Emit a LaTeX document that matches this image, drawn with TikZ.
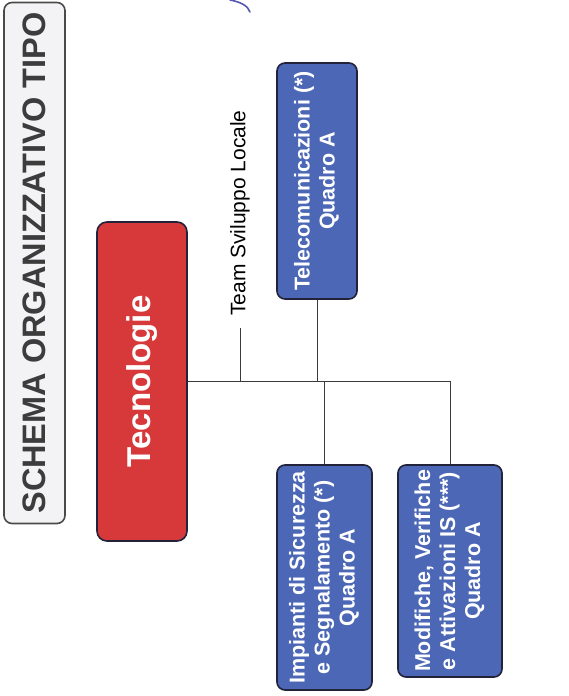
\documentclass[tikz,border=0pt]{standalone}
\usepackage{fontspec}
\setmainfont{Liberation Sans}
\definecolor{boxblue}{HTML}{4B67B5}
\definecolor{techred}{HTML}{D7393B}
\definecolor{boxline}{HTML}{22223A}
\definecolor{titlefill}{HTML}{F3F3F5}
\definecolor{titleline}{HTML}{4A4A4A}
\definecolor{titletext}{HTML}{3C3C3C}
\definecolor{linegray}{HTML}{3A3A3A}
\definecolor{scribblecol}{HTML}{5555B5}
\begin{document}
\begin{tikzpicture}[x=1pt,y=-1pt,
  box/.style={draw=boxline, line width=1.6pt, rounded corners=8pt, inner sep=0pt},
  bluebox/.style={box, fill=boxblue, text=white, font=\bfseries\fontsize{21.5}{25}\selectfont},
  link/.style={draw=linegray, line width=0.9pt},
  scribble/.style={draw=scribblecol, line width=1.6pt, line cap=round}]
\useasboundingbox (0,0) rectangle (569,696);
\fill[white] (0,0) rectangle (569,696);
% title
\node[box, draw=titleline, fill=titlefill, minimum width=61pt, minimum height=521pt,
      text=titletext, font=\bfseries\fontsize{32.5}{36}\selectfont] (title) at (34.5,263)
      {\rotatebox{90}{SCHEMA ORGANIZZATIVO TIPO}};
% main box
\node[box, fill=techred, text=white, rounded corners=10pt, minimum width=90pt, minimum height=319pt,
      font=\bfseries\fontsize{33}{38}\selectfont] (tec) at (142,381.5)
      {\rotatebox{90}{Tecnologie}};
% team label
\node[inner sep=0pt, font=\fontsize{21}{25}\selectfont] (team) at (240,213)
      {\rotatebox{90}{Team Sviluppo Locale}};
% blue boxes
\node[bluebox, minimum width=80pt, minimum height=236pt] (tel) at (317,181)
      {\rotatebox{90}{\begin{tabular}{@{}c@{}}Telecomunicazioni (*)\\Quadro A\end{tabular}}};
\node[bluebox, minimum width=95pt, minimum height=225pt] (imp) at (324.5,577.5)
      {\rotatebox{90}{\begin{tabular}{@{}c@{}}Impianti di Sicurezza\\e Segnalamento (*)\\Quadro A\end{tabular}}};
\node[bluebox, minimum width=104pt, minimum height=212pt] (mod) at (450,571)
      {\rotatebox{90}{\begin{tabular}{@{}c@{}}Modifiche, Verifiche\\e Attivazioni IS (***)\\Quadro A\end{tabular}}};
% connectors
\draw[link] (tec.east) -- (tec.east -| mod.north) -- (mod.north);
\draw[link] (tel.south) -- (tel.south |- tec.east);
\draw[link] (imp.north) -- (imp.north |- tec.east);
\draw[link] ([yshift=-12pt]team.south) -- (team.south |- tec.east);
% pen mark at the top
\draw[scribble] (230,0) .. controls (241,2) and (248,6) .. (250,12);
\end{tikzpicture}
\end{document}
